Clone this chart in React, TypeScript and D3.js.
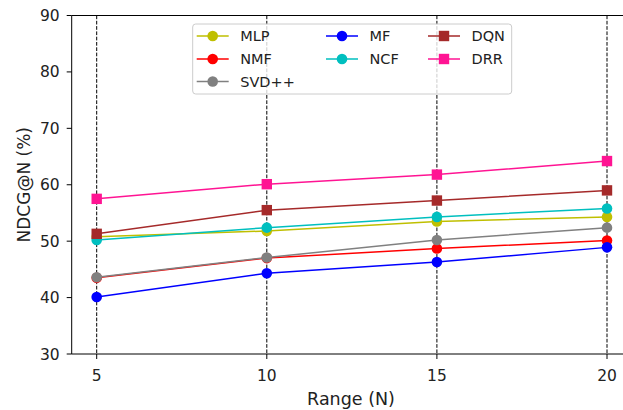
import React from "react";
import * as d3 from "d3";

const xValues = [5, 10, 15, 20];
const yTicks = [30, 40, 50, 60, 70, 80, 90];

const seriesNames = ["MLP", "NMF", "SVD++", "MF", "NCF", "DQN", "DRR"];
const seriesColors = ["#bfbf00", "#ff0000", "#808080", "#0000ff", "#00bfbf", "#a52a2a", "#ff1493"];
const seriesMarkers = ["circle", "circle", "circle", "circle", "circle", "square", "square"];

const mlp = [50.8, 51.8, 53.5, 54.3];
const nmf = [43.5, 47.0, 48.7, 50.1];
const svdpp = [43.6, 47.1, 50.2, 52.4];
const mf = [40.1, 44.3, 46.3, 48.9];
const ncf = [50.2, 52.4, 54.3, 55.8];
const dqn = [51.3, 55.5, 57.2, 59.0];
const drr = [57.5, 60.1, 61.8, 64.2];

const seriesValues = [mlp, nmf, svdpp, mf, ncf, dqn, drr];

// legend columns (matplotlib ncol=3 layout: 3, 2, 2 entries)
const legendColumns = [[0, 1, 2], [3, 4], [5, 6]];

const W = 623;
const H = 410;
const left = 71.7;
const top = 15.5;
const bottom = 354;
const font = "DejaVu Sans, sans-serif";

export default function App() {
  const x = d3.scaleLinear().domain([5, 20]).range([96.7, 607]);
  const y = d3.scaleLinear().domain([30, 90]).range([bottom, top]);
  const line = d3
    .line<number>()
    .x((_, i) => x(xValues[i]))
    .y((d) => y(d));

  const marker = (kind: string, cx: number, cy: number, color: string, key: string) =>
    kind === "square" ? (
      <rect key={key} x={cx - 5.2} y={cy - 5.2} width={10.4} height={10.4} fill={color} />
    ) : (
      <circle key={key} cx={cx} cy={cy} r={5.3} fill={color} />
    );

  const legCols = [196.7, 326, 428];
  const legRows = [36, 59, 81.5];

  return (
    <svg
      width={W}
      height={H}
      style={{ position: "absolute", left: 0, top: 0, background: "#fff" }}
      fontFamily={font}
    >
      <rect x={0} y={0} width={W} height={H} fill="#fff" />
      {/* grid */}
      {xValues.map((v) => (
        <line
          key={"g" + v}
          x1={x(v)}
          x2={x(v)}
          y1={top}
          y2={bottom}
          stroke="#000"
          strokeWidth={1}
          strokeDasharray="3.7,1.6"
        />
      ))}
      {/* series */}
      {seriesValues.map((vals, si) => (
        <g key={seriesNames[si]}>
          <path d={line(vals) || ""} fill="none" stroke={seriesColors[si]} strokeWidth={1.5} />
          {vals.map((v, i) =>
            marker(seriesMarkers[si], x(xValues[i]), y(v), seriesColors[si], seriesNames[si] + i)
          )}
        </g>
      ))}
      {/* spines */}
      <line x1={left} x2={W} y1={top} y2={top} stroke="#000" strokeWidth={1} />
      <line x1={left} x2={W} y1={bottom} y2={bottom} stroke="#000" strokeWidth={1} />
      <line x1={left} x2={left} y1={top} y2={bottom} stroke="#000" strokeWidth={1} />
      {/* y ticks */}
      {yTicks.map((t) => (
        <g key={"yt" + t}>
          <line x1={left - 5} x2={left} y1={y(t)} y2={y(t)} stroke="#000" strokeWidth={1} />
          <text x={left - 12} y={y(t)} dy="0.36em" textAnchor="end" fontSize={15.5} fill="#222">
            {t}
          </text>
        </g>
      ))}
      {/* x ticks */}
      {xValues.map((t) => (
        <g key={"xt" + t}>
          <line x1={x(t)} x2={x(t)} y1={bottom} y2={bottom + 5} stroke="#000" strokeWidth={1} />
          <text x={x(t)} y={380.7} textAnchor="middle" fontSize={15.5} fill="#222">
            {t}
          </text>
        </g>
      ))}
      {/* axis labels */}
      <text x={351} y={405} textAnchor="middle" fontSize={17.5} fill="#222">
        Range (N)
      </text>
      <text
        transform={`translate(30,${(top + bottom) / 2}) rotate(-90)`}
        textAnchor="middle"
        fontSize={17}
        fill="#222"
      >
        NDCG@N (%)
      </text>
      {/* legend */}
      <rect
        x={192.7}
        y={24}
        width={319}
        height={70}
        rx={3}
        fill="#fff"
        fillOpacity={0.8}
        stroke="#ccc"
        strokeWidth={1}
      />
      {legendColumns.map((col, ci) =>
        col.map((i, row) => {
          const name = seriesNames[i];
          const lx = legCols[ci];
          const ly = legRows[row];
          return (
            <g key={"leg" + name}>
              <line x1={lx} x2={lx + 32} y1={ly} y2={ly} stroke={seriesColors[i]} strokeWidth={1.5} />
              {marker(seriesMarkers[i], lx + 16, ly, seriesColors[i], "lm" + name)}
              <text x={lx + 43.5} y={ly} dy="0.36em" fontSize={14.5} fill="#222">
                {name}
              </text>
            </g>
          );
        })
      )}
    </svg>
  );
}
